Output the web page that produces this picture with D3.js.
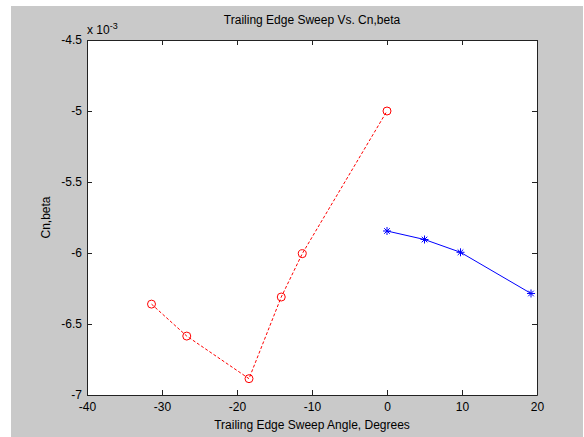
<!DOCTYPE html>
<html>
<head>
<meta charset="utf-8">
<script src="https://cdn.jsdelivr.net/npm/d3@7/dist/d3.min.js"></script>
<style>
  html, body { margin: 0; padding: 0; background: #fff; }
  svg { display: block; }
  text { font-family: "Liberation Sans", Arial, Helvetica, sans-serif; fill: #000; }
</style>
</head>
<body>
<svg id="chart" width="584" height="437"></svg>
<script>
// Trailing edge sweep angle (deg) and yaw stability derivative (x 1e-3)
const negSweep = [-31.4, -26.7, -18.4, -14.1, -11.3, 0];
const negCnBeta = [-6.36, -6.585, -6.885, -6.31, -6.005, -5.0];
const posSweep = [0, 5, 9.8, 19.2];
const posCnBeta = [-5.845, -5.905, -5.995, -6.285];

const xTicks = [-40, -30, -20, -10, 0, 10, 20];
const yTicks = [-4.5, -5, -5.5, -6, -6.5, -7];

const W = 584, H = 437;
const m = { left: 87, right: 47, top: 40, bottom: 42 };
const svg = d3.select("#chart");

// figure background
svg.append("rect").attr("x", 11).attr("y", 6)
  .attr("width", W - 11 - 1).attr("height", H - 6)
  .attr("fill", "#c9c9c9");

const x = d3.scaleLinear().domain([-40, 20]).range([m.left, W - m.right]);
const y = d3.scaleLinear().domain([-7, -4.5]).range([H - m.bottom, m.top]);

// plot area
svg.append("rect")
  .attr("x", m.left).attr("y", m.top)
  .attr("width", x(20) - x(-40)).attr("height", y(-7) - y(-4.5))
  .attr("fill", "#fff");

const fmt = d => String(d);
const tl = 5;

// axes with inward ticks on all four sides
const gx = svg.append("g").attr("transform", `translate(0,${y(-7)})`)
  .call(d3.axisBottom(x).tickValues(xTicks).tickFormat(fmt).tickSizeInner(-tl).tickSizeOuter(0).tickPadding(7));
const gxt = svg.append("g").attr("transform", `translate(0,${y(-4.5)})`)
  .call(d3.axisTop(x).tickValues(xTicks).tickFormat("").tickSizeInner(-tl).tickSizeOuter(0));
const gy = svg.append("g").attr("transform", `translate(${x(-40)},0)`)
  .call(d3.axisLeft(y).tickValues(yTicks).tickFormat(fmt).tickSizeInner(-tl).tickSizeOuter(0).tickPadding(5));
const gyr = svg.append("g").attr("transform", `translate(${x(20)},0)`)
  .call(d3.axisRight(y).tickValues(yTicks).tickFormat("").tickSizeInner(-tl).tickSizeOuter(0));

[gx, gxt, gy, gyr].forEach(g => {
  g.select(".domain").attr("stroke", "#222").attr("stroke-width", 1);
  g.selectAll(".tick line").attr("stroke", "#222");
  g.selectAll(".tick text").attr("font-size", 12).attr("fill", "#000")
    .style("font-family", '"Liberation Sans", Arial, sans-serif');
});

// clip for data
svg.append("clipPath").attr("id", "clip").append("rect")
  .attr("x", m.left - 6).attr("y", m.top - 6)
  .attr("width", x(20) - x(-40) + 12).attr("height", y(-7) - y(-4.5) + 12);

const line = d3.line().x(d => x(d[0])).y(d => y(d[1]));
const negData = negSweep.map((v, i) => [v, negCnBeta[i]]);
const posData = posSweep.map((v, i) => [v, posCnBeta[i]]);

const plot = svg.append("g").attr("clip-path", "url(#clip)");

plot.append("path").datum(negData).attr("d", line)
  .attr("fill", "none").attr("stroke", "#ff0000").attr("stroke-width", 1)
  .attr("stroke-dasharray", "3,2");
plot.selectAll("circle.neg").data(negData).join("circle")
  .attr("class", "neg")
  .attr("cx", d => x(d[0])).attr("cy", d => y(d[1])).attr("r", 4)
  .attr("fill", "none").attr("stroke", "#ff0000").attr("stroke-width", 1);

plot.append("path").datum(posData).attr("d", line)
  .attr("fill", "none").attr("stroke", "#0000ff").attr("stroke-width", 1);
const star = plot.selectAll("g.pos").data(posData).join("g")
  .attr("class", "pos")
  .attr("transform", d => `translate(${x(d[0])},${y(d[1])})`);
star.append("path")
  .attr("d", "M-4,0H4M0,-4V4M-2.8,-2.8L2.8,2.8M-2.8,2.8L2.8,-2.8")
  .attr("stroke", "#0000ff").attr("stroke-width", 1).attr("fill", "none");

// titles and labels
svg.append("text").attr("x", (x(-40) + x(20)) / 2).attr("y", 24)
  .attr("text-anchor", "middle").attr("font-size", 12)
  .text("Trailing Edge Sweep Vs. Cn,beta");
svg.append("text").attr("x", (x(-40) + x(20)) / 2).attr("y", 429)
  .attr("text-anchor", "middle").attr("font-size", 12)
  .text("Trailing Edge Sweep Angle, Degrees");
svg.append("text")
  .attr("transform", `translate(50,${(y(-4.5) + y(-7)) / 2}) rotate(-90)`)
  .attr("text-anchor", "middle").attr("font-size", 12)
  .text("Cn,beta");

const exp = svg.append("text").attr("x", 87).attr("y", 34).attr("font-size", 12);
exp.append("tspan").text("x 10");
exp.append("tspan").attr("dy", -5).attr("font-size", 9).text("-3");
</script>
</body>
</html>
